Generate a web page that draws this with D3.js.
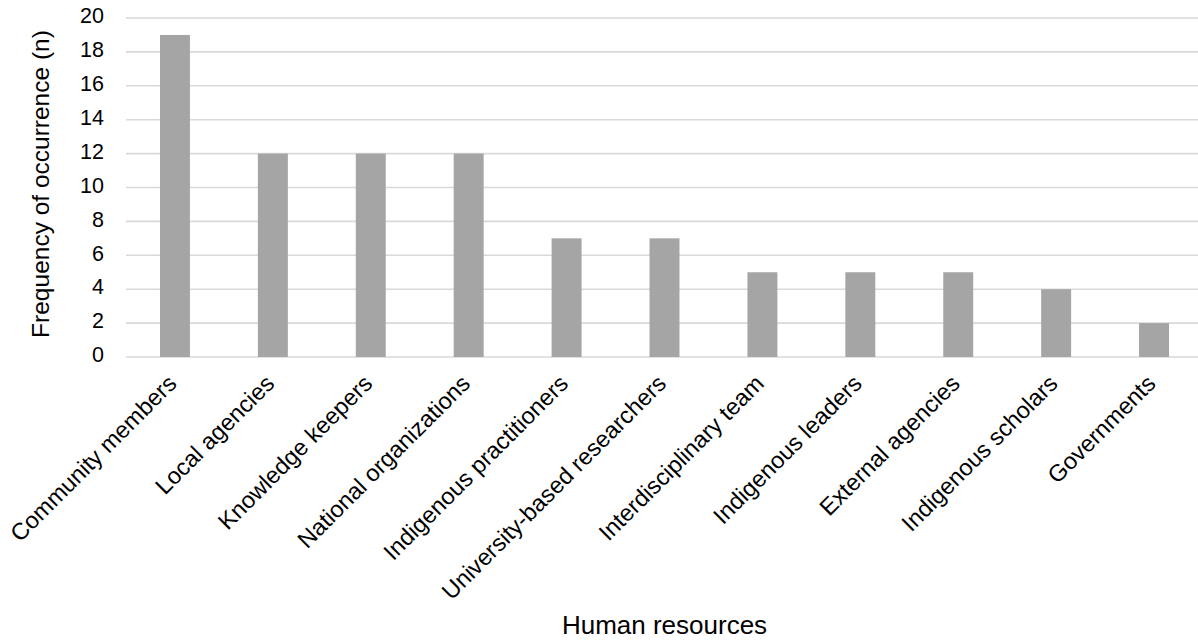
<!DOCTYPE html>
<html>
<head>
<meta charset="utf-8">
<script src="https://cdn.jsdelivr.net/npm/d3@7"></script>
<style>
  html, body { margin: 0; padding: 0; background: #fff; }
  svg { display: block; font-family: "Liberation Sans", Arial, Helvetica, sans-serif; }
</style>
</head>
<body>
<svg id="chart" width="1198" height="641"></svg>
<script>
// Human resources mentioned, with how often each occurs
const categories = [
  "Community members",
  "Local agencies",
  "Knowledge keepers",
  "National organizations",
  "Indigenous practitioners",
  "University-based researchers",
  "Interdisciplinary team",
  "Indigenous leaders",
  "External agencies",
  "Indigenous scholars",
  "Governments"
];
const frequencies = [19, 12, 12, 12, 7, 7, 5, 5, 5, 4, 2];
const yTicks = [0, 2, 4, 6, 8, 10, 12, 14, 16, 18, 20];

const svg = d3.select("#chart");
const plot = { left: 126, right: 1203, top: 18, bottom: 357 };
const fontStack = "Liberation Sans, Arial, Helvetica, sans-serif";

const x = d3.scaleBand()
  .domain(categories)
  .range([plot.left, plot.right])
  .paddingInner(0.694)
  .paddingOuter(0.347);

const y = d3.scaleLinear()
  .domain([0, 20])
  .range([plot.bottom, plot.top]);

// horizontal gridlines (the 0 line doubles as the baseline)
svg.append("g")
  .selectAll("line")
  .data(yTicks)
  .join("line")
  .attr("x1", plot.left)
  .attr("x2", plot.right)
  .attr("y1", d => y(d))
  .attr("y2", d => y(d))
  .attr("stroke", "#d9d9d9")
  .attr("stroke-width", 1.6);

// y axis labels
const yAxis = d3.axisLeft(y).tickValues(yTicks).tickSize(0).tickPadding(0);
const yg = svg.append("g")
  .attr("transform", `translate(${plot.left - 22},0)`)
  .call(yAxis);
yg.select(".domain").remove();
yg.selectAll("text")
  .attr("font-size", 21.5)
  .attr("font-family", fontStack)
  .attr("fill", "#000")
  .attr("dy", "0.22em");

// bars
svg.append("g")
  .selectAll("rect")
  .data(categories.map((c, i) => ({ c, v: frequencies[i] })))
  .join("rect")
  .attr("x", d => x(d.c))
  .attr("width", x.bandwidth())
  .attr("y", d => y(d.v))
  .attr("height", d => y(0) - y(d.v))
  .attr("fill", "#a5a5a5");

// rotated category labels
const xAxis = d3.axisBottom(x).tickSize(0).tickPadding(0);
const xg = svg.append("g")
  .attr("transform", `translate(0,${plot.bottom})`)
  .call(xAxis);
xg.select(".domain").remove();
xg.selectAll("text")
  .attr("font-size", 23.5)
  .attr("font-family", fontStack)
  .attr("fill", "#000")
  .attr("text-anchor", "end")
  .attr("dy", null)
  .attr("y", null)
  .attr("transform", "translate(3,28) rotate(-45)");

// axis titles
svg.append("text")
  .attr("transform", `translate(49,184) rotate(-90)`)
  .attr("text-anchor", "middle")
  .attr("font-family", fontStack)
  .attr("font-size", 24.5)
  .attr("fill", "#000")
  .text("Frequency of occurrence (n)");

svg.append("text")
  .attr("x", (plot.left + plot.right) / 2)
  .attr("y", 634)
  .attr("text-anchor", "middle")
  .attr("font-family", fontStack)
  .attr("font-size", 26)
  .attr("fill", "#000")
  .text("Human resources");
</script>
</body>
</html>
